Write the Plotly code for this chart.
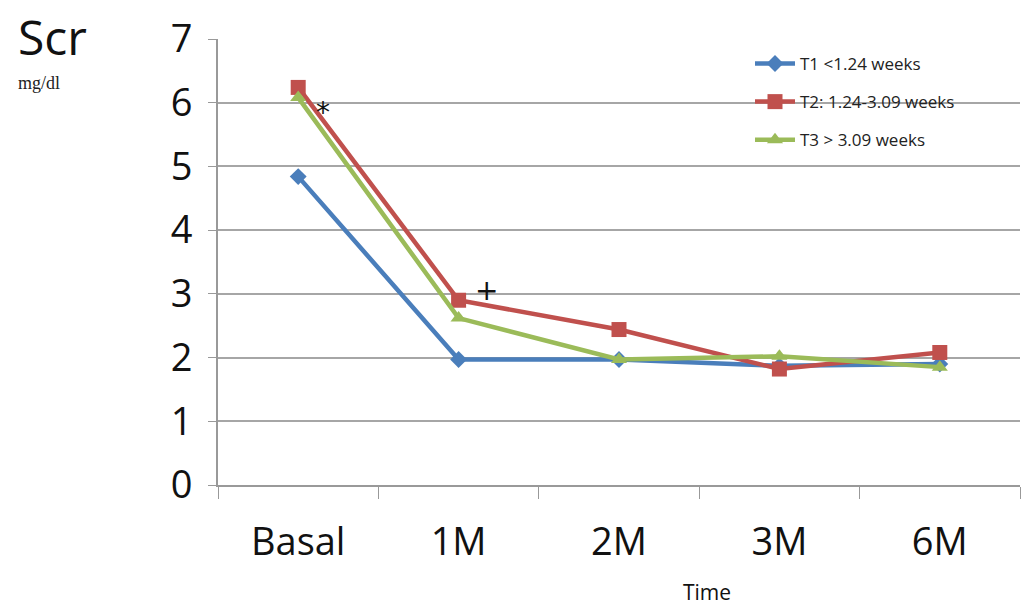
import plotly.graph_objects as go

categories = ["Basal", "1M", "2M", "3M", "6M"]
t1 = [4.84, 1.97, 1.97, 1.87, 1.90]
t2 = [6.24, 2.90, 2.44, 1.82, 2.08]
t3 = [6.08, 2.62, 1.97, 2.02, 1.85]
names = ["T1 <1.24 weeks", "T2: 1.24-3.09 weeks", "T3 > 3.09 weeks"]
colors = ["#4a7ebb", "#c0504d", "#9bbb59"]
symbols = ["diamond", "square", "triangle-up"]
sizes = [13, 15, 14]

L, R, T, B = 218, 11, 37, 124
W, H = 1031, 609
pw, ph = W - L - R, H - T - B

def px(x):
    return (x - L) / pw

def py(y):
    return (H - B - y) / ph

fig = go.Figure()
for i, (vals, nm, c, s, sz) in enumerate(zip([t1, t2, t3], names, colors, symbols, sizes)):
    fig.add_trace(go.Scatter(
        x=categories, y=vals, name=nm, mode="lines+markers", legendgroup=f"g{i}",
        line=dict(color=c, width=4.5),
        marker=dict(symbol=s, size=sz, color=c),
    ))

fig.add_annotation(x=0, y=5.85, text="*", showarrow=False, xshift=25,
                   font=dict(size=28, color="#111", family="DejaVu Sans"))
fig.add_annotation(x=1, y=3.05, text="+", showarrow=False, xshift=28,
                   font=dict(size=28, color="#111", family="DejaVu Sans"))

fig.add_annotation(xref="paper", yref="paper", x=px(16), y=py(34), text="Scr",
                   showarrow=False, xanchor="left", yanchor="middle",
                   font=dict(size=48, family="Open Sans", color="#111"))
fig.add_annotation(xref="paper", yref="paper", x=px(16), y=py(81), text="mg/dl",
                   showarrow=False, xanchor="left", yanchor="middle",
                   font=dict(size=18, family="Liberation Serif", color="#222"))
fig.add_annotation(xref="paper", yref="paper", x=px(707), y=py(592), text="Time",
                   showarrow=False, xanchor="center", yanchor="middle",
                   font=dict(size=21, family="Open Sans", color="#111"))

fig.update_layout(
    width=W, height=H,
    margin=dict(l=L, r=R, t=T, b=B),
    paper_bgcolor="white", plot_bgcolor="white",
    font=dict(family="Open Sans", color="#111"),
    showlegend=True,
    legend=dict(x=px(750), y=py(44), xanchor="left", yanchor="top",
                font=dict(size=17, family="Open Sans", color="#222"),
                bgcolor="rgba(0,0,0,0)", tracegroupgap=13, itemwidth=40),
)
fig.update_xaxes(
    type="category", range=[-0.5, 4.5], showgrid=False,
    showline=True, linecolor="#999", linewidth=2,
    ticks="outside", ticklen=12, tickcolor="#999", tickson="boundaries",
    ticklabelstandoff=22,
    tickfont=dict(size=38, family="Open Sans", color="#111"),
)
fig.update_yaxes(
    range=[0, 7], dtick=1, showgrid=True, gridcolor="#a6a6a6", gridwidth=2,
    showline=True, linecolor="#999", linewidth=2,
    ticks="outside", ticklen=8, tickcolor="#999",
    ticklabelstandoff=8,
    tickfont=dict(size=38, family="Open Sans", color="#111"),
    zeroline=False,
)

fig.write_html("out.html")
